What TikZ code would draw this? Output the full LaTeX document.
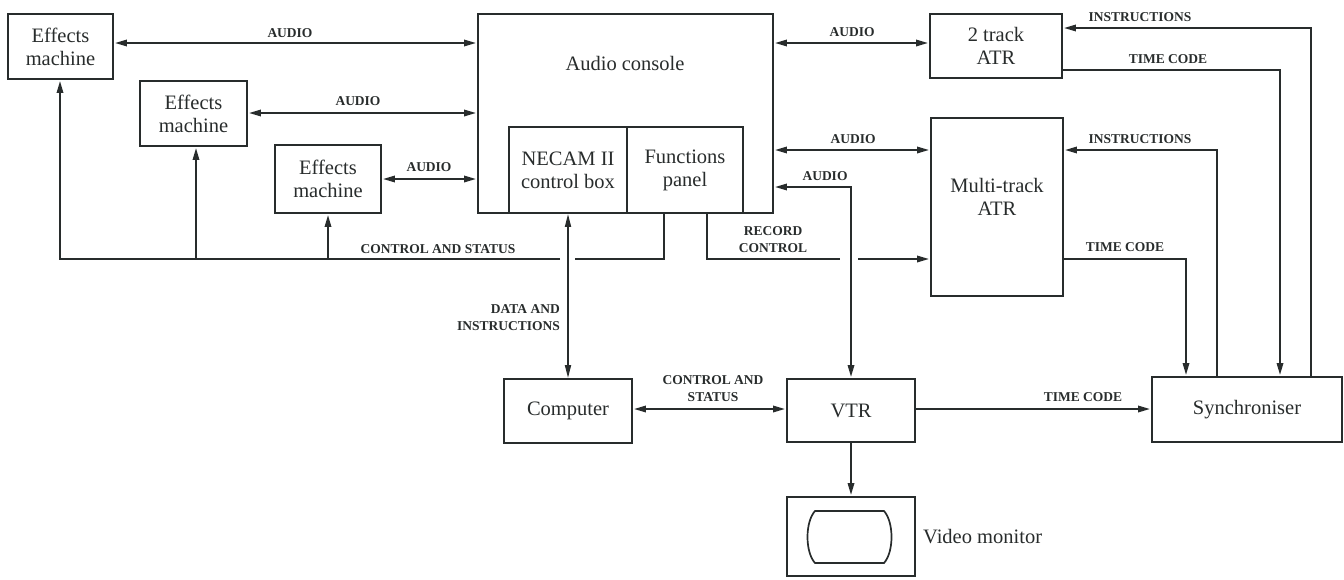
\documentclass[tikz,border=0pt]{standalone}
\usepackage{fontspec}
\setmainfont{Liberation Serif}
\usetikzlibrary{arrows.meta}
\definecolor{ink}{RGB}{40,44,44}
\begin{document}
\begin{tikzpicture}[x=1pt,y=-1pt,
  >={Triangle[length=13pt,width=6pt]},
  box/.style={draw=ink, line width=1.9pt, inner sep=0pt, align=center, text=ink,
              font=\fontsize{20.5}{23}\selectfont},
  txt/.style={inner sep=0pt, align=center, text=ink, font=\fontsize{20.5}{23}\selectfont},
  conn/.style={draw=ink, line width=2.8pt},
  thin/.style={draw=ink, line width=1.7pt},
  lbl/.style={inner sep=0pt, align=center, text=ink, font=\fontsize{13.5}{17}\selectfont\bfseries}]
\useasboundingbox (0,0) rectangle (1344,579);

% boxes
\node[box, minimum width=105pt, minimum height=65pt] (e1) at (60.5,46.5) {Effects\\machine};
\node[box, minimum width=107pt, minimum height=65pt] (e2) at (193.5,113.5) {Effects\\machine};
\node[box, minimum width=106pt, minimum height=68pt] (e3) at (328,179) {Effects\\machine};
\node[box, minimum width=295pt, minimum height=199pt] (cons) at (625.5,113.5) {};
\node[txt] (conslbl) at (625,63) {Audio console};
\node[box, minimum width=118pt, minimum height=86pt] (necam) at (568,170) {NECAM II\\control box};
\node[box, minimum width=116pt, minimum height=86pt] (func) at (685,170) {Functions\\panel};
\node[box, minimum width=132pt, minimum height=64pt] (atr2) at (996,46) {2 track\\ATR};
\node[box, minimum width=132pt, minimum height=178pt] (mtr) at (997,207) {};
\node[txt] (mtrlbl) at (997,197) {Multi-track\\ATR};
\node[box, minimum width=128pt, minimum height=64pt] (comp) at (568,411) {Computer};
\node[box, minimum width=128pt, minimum height=63pt] (vtr) at (851,410.5) {VTR};
\node[box, minimum width=128pt, minimum height=79pt] (mon) at (851,536.5) {};
\node[txt, anchor=west] (monlbl) at (923,537) {Video monitor};
\node[box, minimum width=190pt, minimum height=65pt] (sync) at (1247,409.5) {Synchroniser};

% monitor screen
\draw[ink, line width=1.7pt] (815,511) -- (884,511)
  .. controls (894,522) and (894,552) .. (884,563) -- (815,563)
  .. controls (805,552) and (805,522) .. (815,511) -- cycle;

% audio links to effects machines
\draw[conn,<->] (e1.east |- 0,43) -- (cons.west |- 0,43);
\node[lbl] (la1) at (290,33) {AUDIO};
\draw[conn,<->] (e2.east |- 0,113) -- (cons.west |- 0,113);
\node[lbl] (la2) at (358,101) {AUDIO};
\draw[conn,<->] (e3.east |- 0,179) -- (cons.west |- 0,179);
\node[lbl] (la3) at (429,167) {AUDIO};

% control and status bus
\coordinate (busR) at (664,259);
\draw[conn] (func.south -| busR) -- (busR) -- (575,259);
\draw[conn,->] (560,259) -- (60,259) -- (e1.south -| 60,0);
\draw[conn,->] (196,259) -- (e2.south -| 196,0);
\draw[conn,->] (328,259) -- (e3.south -| 328,0);
\node[lbl] (lcs) at (438,249) {CONTROL AND STATUS};

% data and instructions
\draw[thin,<->] (comp.north |- necam.south) -- (comp.north);
\node[lbl, anchor=east, align=right] (ldi) at (560,318) {DATA AND\\INSTRUCTIONS};

% record control
\draw[conn] (func.south -| 707,0) -- (707,259) -- (840,259);
\draw[conn,->] (858,259) -- (mtr.west |- 0,259);
\node[lbl] (lrc) at (773,240) {RECORD\\CONTROL};

% console to ATRs
\draw[conn,<->] (cons.east |- 0,43) -- (atr2.west |- 0,43);
\node[lbl] (la4) at (852,32) {AUDIO};
\draw[conn,<->] (cons.east |- 0,150) -- (mtr.west |- 0,150);
\node[lbl] (la5) at (853,139) {AUDIO};

% console to VTR audio
\draw[conn,<->] (cons.east |- 0,187) -- (851,187) -- (vtr.north);
\node[lbl] (la6) at (825,176) {AUDIO};

% computer - VTR
\draw[conn,<->] (comp.east |- 0,409) -- (vtr.west |- 0,409);
\node[lbl] (lcs2) at (713,389) {CONTROL AND\\STATUS};

% VTR - monitor
\draw[conn,->] (vtr.south) -- (mon.north);

% VTR - synchroniser
\draw[conn,->] (vtr.east |- 0,409) -- (sync.west |- 0,409);
\node[lbl] (ltc1) at (1083,397) {TIME CODE};

% synchroniser links
\draw[conn,->] (sync.north -| 1311,0) -- (1311,28) -- (atr2.east |- 0,28);
\node[lbl] (lin1) at (1140,17) {INSTRUCTIONS};
\draw[conn,->] (atr2.east |- 0,70) -- (1280,70) -- (sync.north -| 1280,0);
\node[lbl] (ltc2) at (1168,59) {TIME CODE};
\draw[conn,->] (sync.north -| 1217,0) -- (1217,150) -- (mtr.east |- 0,150);
\node[lbl] (lin2) at (1140,139) {INSTRUCTIONS};
\draw[conn,->] (mtr.east |- 0,259) -- (1186,259) -- (sync.north -| 1186,0);
\node[lbl] (ltc3) at (1125,247) {TIME CODE};
\end{tikzpicture}
\end{document}
